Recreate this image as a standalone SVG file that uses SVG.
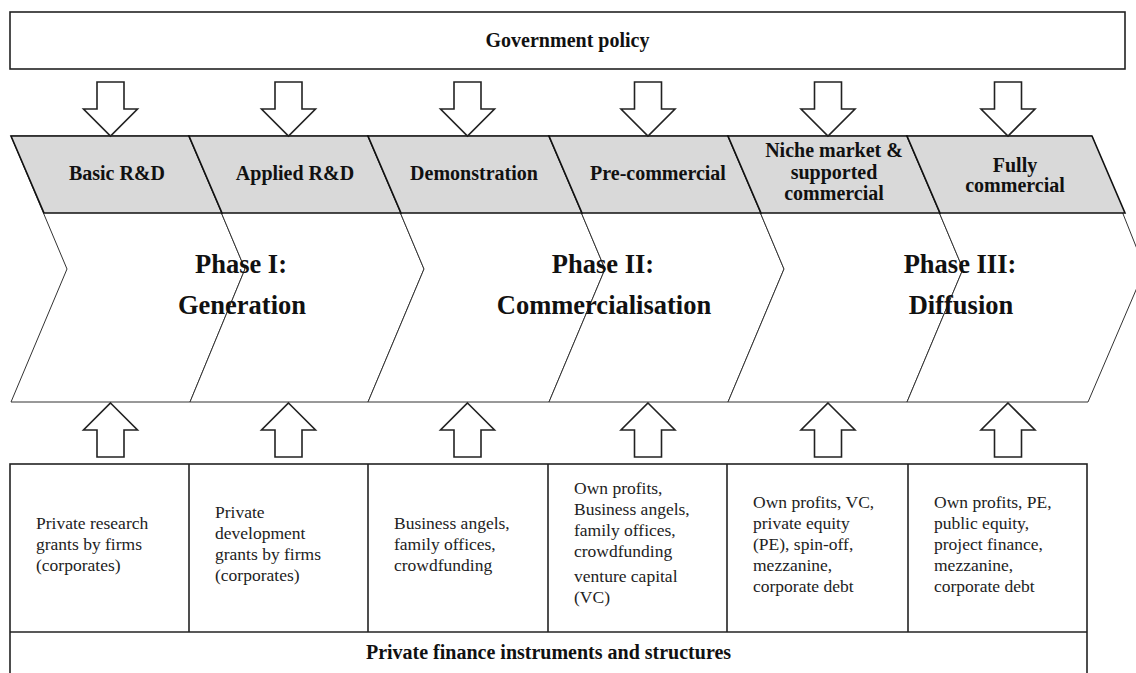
<svg xmlns="http://www.w3.org/2000/svg" width="1136" height="673" viewBox="0 0 1136 673">
<style>
.box{fill:#fff;stroke:#222;stroke-width:1.6}
.chev{fill:#fff;stroke:#333;stroke-width:1}
.band{fill:#d9d9d9;stroke:#111;stroke-width:1.6;stroke-linejoin:miter}
.arrow{fill:#fff;stroke:#222;stroke-width:1.6;stroke-linejoin:miter}
.line{stroke:#222;stroke-width:1.6;fill:none}
.lbl{font-family:"Liberation Serif","Times New Roman",serif;font-weight:bold;font-size:20px;fill:#111;text-anchor:middle}
.ph{font-family:"Liberation Serif","Times New Roman",serif;font-weight:bold;font-size:26.5px;fill:#111;text-anchor:middle}
.txt{font-family:"Liberation Serif","Times New Roman",serif;font-size:17.5px;fill:#222}
</style>
<rect width="1136" height="673" fill="#fff"/>

<g id="government-policy">
<rect class="box" x="10" y="12" width="1115" height="57"/>
<text class="lbl" x="567.5" y="47">Government policy</text>
</g>

<g id="chevrons">
<polygon class="chev" points="11,136 189,136 245,269 190,402 11,402 67,269"/>
<polygon class="chev" points="189,136 368,136 424,269 368,402 190,402 245,269"/>
<polygon class="chev" points="368,136 549,136 605,269 549,402 368,402 424,269"/>
<polygon class="chev" points="549,136 728,136 784,269 728,402 549,402 605,269"/>
<polygon class="chev" points="728,136 907,136 963,269 907,402 728,402 784,269"/>
<polygon class="chev" points="907,136 1092,136 1145,269 1088,402 907,402 963,269"/>
</g>

<g id="stage-basic-rd">
<polygon class="band" points="11,136 189,136 222,213 44,213"/>
<text class="lbl" x="117" y="180">Basic R&amp;D</text>
</g>
<g id="stage-applied-rd">
<polygon class="band" points="189,136 368,136 401,213 222,213"/>
<text class="lbl" x="295" y="180">Applied R&amp;D</text>
</g>
<g id="stage-demonstration">
<polygon class="band" points="368,136 549,136 582,213 401,213"/>
<text class="lbl" x="474" y="180">Demonstration</text>
</g>
<g id="stage-pre-commercial">
<polygon class="band" points="549,136 728,136 761,213 582,213"/>
<text class="lbl" x="658" y="180">Pre-commercial</text>
</g>
<g id="stage-niche-market">
<polygon class="band" points="728,136 907,136 940,213 761,213"/>
<text class="lbl" x="834" y="157">Niche market &amp;</text>
<text class="lbl" x="834" y="178.5">supported</text>
<text class="lbl" x="834" y="200">commercial</text>
</g>
<g id="stage-fully-commercial">
<polygon class="band" points="907,136 1092,136 1125,213 940,213"/>
<text class="lbl" x="1015" y="172">Fully</text>
<text class="lbl" x="1015" y="192">commercial</text>
</g>

<g id="phase-1">
<text class="ph" x="241" y="273">Phase I:</text>
<text class="ph" x="242" y="314">Generation</text>
</g>
<g id="phase-2">
<text class="ph" x="603" y="273">Phase II:</text>
<text class="ph" x="604" y="314">Commercialisation</text>
</g>
<g id="phase-3">
<text class="ph" x="960" y="273">Phase III:</text>
<text class="ph" x="961" y="314">Diffusion</text>
</g>

<g id="connectors">
<path class="arrow" d="M97,82H124V109H137.5L110.5,136L83.5,109H97Z"/>
<path class="arrow" d="M275,82H302V109H315.5L288.5,136L261.5,109H275Z"/>
<path class="arrow" d="M454,82H481V109H494.5L467.5,136L440.5,109H454Z"/>
<path class="arrow" d="M634.5,82H661.5V109H675L648,136L621,109H634.5Z"/>
<path class="arrow" d="M814.5,82H841.5V109H855L828,136L801,109H814.5Z"/>
<path class="arrow" d="M994.5,82H1021.5V109H1035L1008,136L981,109H994.5Z"/>
<path class="arrow" d="M110.5,403L137.5,430H124V457H97V430H83.5Z"/>
<path class="arrow" d="M288.5,403L315.5,430H302V457H275V430H261.5Z"/>
<path class="arrow" d="M467.5,403L494.5,430H481V457H454V430H440.5Z"/>
<path class="arrow" d="M648,403L675,430H661.5V457H634.5V430H621Z"/>
<path class="arrow" d="M828,403L855,430H841.5V457H814.5V430H801Z"/>
<path class="arrow" d="M1008,403L1035,430H1021.5V457H994.5V430H981Z"/>
</g>

<g id="private-finance">
<rect class="box" x="10" y="464" width="1077" height="215"/>
<line class="line" x1="10" y1="632" x2="1087" y2="632"/>
<text class="lbl" x="548.5" y="659">Private finance instruments and structures</text>
</g>

<g id="finance-basic-rd">
<text class="txt" x="36"><tspan x="36" y="529">Private research</tspan><tspan x="36" y="550">grants by firms</tspan><tspan x="36" y="571">(corporates)</tspan></text>
</g>
<g id="finance-applied-rd">
<line class="line" x1="189" y1="464" x2="189" y2="632"/>
<text class="txt"><tspan x="215" y="518">Private</tspan><tspan x="215" y="539">development</tspan><tspan x="215" y="560">grants by firms</tspan><tspan x="215" y="581">(corporates)</tspan></text>
</g>
<g id="finance-demonstration">
<line class="line" x1="368" y1="464" x2="368" y2="632"/>
<text class="txt"><tspan x="394" y="529">Business angels,</tspan><tspan x="394" y="550">family offices,</tspan><tspan x="394" y="571">crowdfunding</tspan></text>
</g>
<g id="finance-pre-commercial">
<line class="line" x1="548" y1="464" x2="548" y2="632"/>
<text class="txt"><tspan x="574" y="494">Own profits,</tspan><tspan x="574" y="515">Business angels,</tspan><tspan x="574" y="536">family offices,</tspan><tspan x="574" y="557">crowdfunding</tspan><tspan x="574" y="582">venture capital</tspan><tspan x="574" y="603">(VC)</tspan></text>
</g>
<g id="finance-niche-market">
<line class="line" x1="727" y1="464" x2="727" y2="632"/>
<text class="txt"><tspan x="753" y="508">Own profits, VC,</tspan><tspan x="753" y="529">private equity</tspan><tspan x="753" y="550">(PE), spin-off,</tspan><tspan x="753" y="571">mezzanine,</tspan><tspan x="753" y="592">corporate debt</tspan></text>
</g>
<g id="finance-fully-commercial">
<line class="line" x1="908" y1="464" x2="908" y2="632"/>
<text class="txt"><tspan x="934" y="508">Own profits, PE,</tspan><tspan x="934" y="529">public equity,</tspan><tspan x="934" y="550">project finance,</tspan><tspan x="934" y="571">mezzanine,</tspan><tspan x="934" y="592">corporate debt</tspan></text>
</g>
</svg>
